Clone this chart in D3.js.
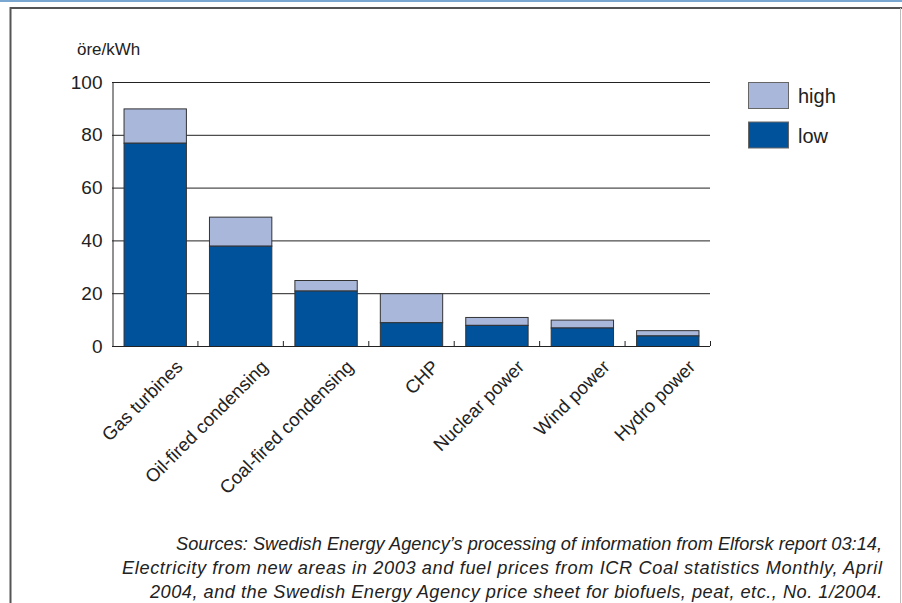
<!DOCTYPE html>
<html>
<head>
<meta charset="utf-8">
<script src="https://cdn.jsdelivr.net/npm/d3@7"></script>
<style>
  html, body { margin: 0; padding: 0; background: #fff; }
  svg { display: block; font-family: "Liberation Sans", Arial, Helvetica, sans-serif; }
</style>
</head>
<body>
<svg id="chart" width="902" height="603"></svg>
<script>
// Electricity generation cost ranges, öre/kWh
const categories = ["Gas turbines", "Oil-fired condensing", "Coal-fired condensing", "CHP",
                    "Nuclear power", "Wind power", "Hydro power"];
const lowValues  = [77, 38, 21, 9, 8, 7, 4];
const highValues = [90, 49, 25, 20, 11, 10, 6];
const yTicks = [0, 20, 40, 60, 80, 100];
const seriesNames = ["high", "low"];
const unitLabel = "öre/kWh";
const sourceLines = [
  "Sources: Swedish Energy Agency’s processing of information from Elforsk report 03:14,",
  "Electricity from new areas in 2003 and fuel prices from ICR Coal statistics Monthly, April",
  "2004, and the Swedish Energy Agency price sheet for biofuels, peat, etc., No. 1/2004."
];
// set widths of the right-aligned source lines
const sourceWidths = [706, 760, 732];

const colors = { high: "#a9b7da", low: "#00529b" };

const svg = d3.select("#chart");

// page frame
svg.append("rect").attr("x", 0).attr("y", 0).attr("width", 902).attr("height", 2).attr("fill", "#7aa6d2");
svg.append("line").attr("x1", 10.5).attr("x2", 10.5).attr("y1", 7).attr("y2", 603)
  .attr("stroke", "#555").attr("stroke-width", 2);
svg.append("line").attr("x1", 10).attr("x2", 902).attr("y1", 8).attr("y2", 8)
  .attr("stroke", "#555").attr("stroke-width", 2);
svg.append("line").attr("x1", 900.5).attr("x2", 900.5).attr("y1", 8).attr("y2", 603)
  .attr("stroke", "#bbb").attr("stroke-width", 1);

const plotLeft = 112, plotRight = 710, plotTop = 82, plotBottom = 346;

const x = d3.scaleBand().domain(categories).range([plotLeft, plotRight]).paddingInner(0.27).paddingOuter(0.135);
const xEdges = d3.scaleBand().domain(categories).range([plotLeft, plotRight]).padding(0);
const y = d3.scaleLinear().domain([0, 100]).range([plotBottom, plotTop]);

// gridlines
svg.append("g").selectAll("line").data(yTicks.filter(d => d > 0)).join("line")
  .attr("x1", plotLeft).attr("x2", plotRight)
  .attr("y1", d => y(d) + 0.5).attr("y2", d => y(d) + 0.5)
  .attr("stroke", "#222").attr("stroke-width", 1);

// y axis
const yAxis = svg.append("g").attr("transform", `translate(${plotLeft + 0.5},0)`)
  .call(d3.axisLeft(y).tickValues(yTicks).tickSize(0).tickPadding(10));
yAxis.select(".domain").attr("stroke", "#222");
yAxis.selectAll("text").attr("font-size", 19).attr("fill", "#222")
  .attr("font-family", "Liberation Sans, Arial, sans-serif");

svg.append("text").attr("x", 77).attr("y", 55).attr("font-size", 17).attr("fill", "#222")
  .text(unitLabel);

// stacked bars
const stack = categories.map((c, i) => ({ c, low: lowValues[i], high: highValues[i] }));
const bars = svg.append("g");
bars.selectAll("rect.high").data(stack).join("rect").attr("class", "high")
  .attr("x", d => x(d.c) + 0.5).attr("width", x.bandwidth())
  .attr("y", d => y(d.high) + 0.5).attr("height", d => y(d.low) - y(d.high))
  .attr("fill", colors.high).attr("stroke", "#333").attr("stroke-width", 1);
bars.selectAll("rect.low").data(stack).join("rect").attr("class", "low")
  .attr("x", d => x(d.c) + 0.5).attr("width", x.bandwidth())
  .attr("y", d => y(d.low) + 0.5).attr("height", d => y(0) - y(d.low))
  .attr("fill", colors.low).attr("stroke", "#333").attr("stroke-width", 1);

// x axis with inward ticks at category boundaries
const xg = svg.append("g");
xg.append("line").attr("x1", plotLeft).attr("x2", plotRight).attr("y1", plotBottom + 0.5).attr("y2", plotBottom + 0.5)
  .attr("stroke", "#222");
const boundaries = categories.map(c => xEdges(c) + xEdges.bandwidth());
xg.selectAll("line.tick").data(boundaries).join("line").attr("class", "tick")
  .attr("x1", d => d + 0.5).attr("x2", d => d + 0.5).attr("y1", plotBottom).attr("y2", plotBottom - 5)
  .attr("stroke", "#222");

xg.selectAll("text").data(categories).join("text")
  .attr("transform", c => `translate(${xEdges(c) + xEdges.bandwidth() / 2 + 29},${plotBottom + 22}) rotate(-45)`)
  .attr("text-anchor", "end")
  .attr("font-size", 18.5).attr("fill", "#222")
  .text(c => c);

// legend
const legend = svg.append("g").attr("transform", "translate(748,82)");
seriesNames.forEach((s, i) => {
  legend.append("rect").attr("x", 0.5).attr("y", i * 39.5 + 0.5).attr("width", 40).attr("height", 26)
    .attr("fill", colors[s]).attr("stroke", "#666");
  legend.append("text").attr("x", 50).attr("y", i * 39.5 + 21).attr("font-size", 20).attr("fill", "#222")
    .text(s);
});

// source note
svg.append("g").selectAll("text").data(sourceLines).join("text")
  .attr("x", (d, i) => 882 - sourceWidths[i]).attr("y", (d, i) => 550 + i * 24)
  .attr("textLength", (d, i) => sourceWidths[i]).attr("lengthAdjust", "spacing")
  .attr("font-style", "italic").attr("font-size", 18.2).attr("fill", "#222")
  .text(d => d);
</script>
</body>
</html>
